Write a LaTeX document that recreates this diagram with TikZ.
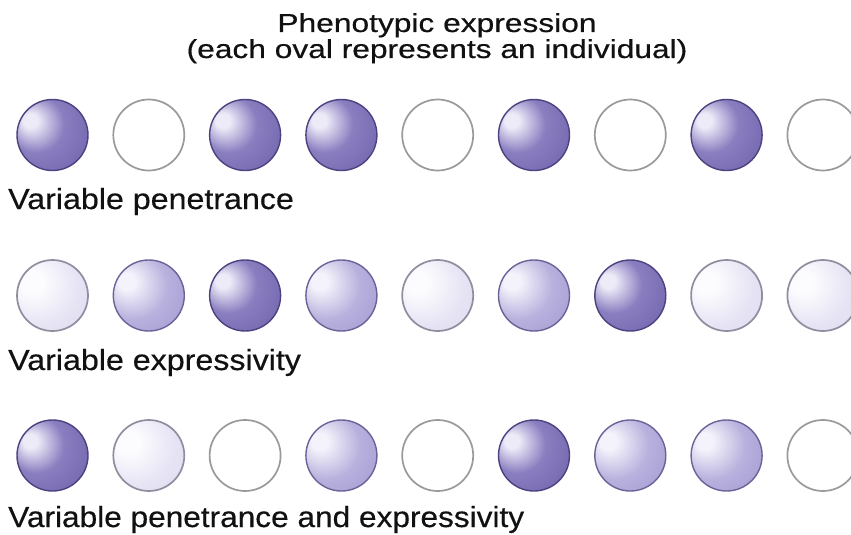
\documentclass[tikz,border=0pt]{standalone}
\usepackage{fontspec}
\setmainfont{Liberation Sans}
\newfontfamily\heavyfont{Liberation Sans}[FakeBold=0.45]
\usepackage{graphicx}

% shading and outline colours of the individuals
\definecolor{Dzero}{HTML}{EEEBF8}
\definecolor{Done}{HTML}{8A7EC0}
\definecolor{Dtwo}{HTML}{7264AD}
\definecolor{Dthree}{HTML}{5A4B94}
\definecolor{Mzero}{HTML}{F4F2FB}
\definecolor{Mone}{HTML}{B8B0DD}
\definecolor{Mtwo}{HTML}{A098CF}
\definecolor{Mthree}{HTML}{8C82BF}
\definecolor{Lzero}{HTML}{FCFCFE}
\definecolor{Lone}{HTML}{E6E3F4}
\definecolor{Ltwo}{HTML}{D4D0EB}
\definecolor{outD}{HTML}{4D4280}
\definecolor{outM}{HTML}{6B6298}
\definecolor{outL}{HTML}{8F8D9E}
\definecolor{outW}{HTML}{9A9A9A}
\definecolor{txt}{HTML}{111111}

\pgfdeclareradialshading{darkball}{\pgfqpoint{-17bp}{11bp}}{%
  color(0bp)=(Dzero); color(5bp)=(Dzero); color(20bp)=(Done);
  color(40bp)=(Dtwo); color(66bp)=(Dthree)}
\pgfdeclareradialshading{medball}{\pgfqpoint{-17bp}{11bp}}{%
  color(0bp)=(Mzero); color(6bp)=(Mzero); color(24bp)=(Mone);
  color(45bp)=(Mtwo); color(66bp)=(Mthree)}
\pgfdeclareradialshading{lightball}{\pgfqpoint{-17bp}{11bp}}{%
  color(0bp)=(Lzero); color(8bp)=(Lzero); color(28bp)=(Lone);
  color(66bp)=(Ltwo)}

\tikzset{
  ind/.style={circle, minimum size=71pt, inner sep=0pt},
  dk/.style={ind, draw=outD, line width=1.4pt, shading=darkball},
  md/.style={ind, draw=outM, line width=1.4pt, shading=medball},
  lt/.style={ind, draw=outL, line width=1.7pt, shading=lightball},
  wh/.style={ind, draw=outW, line width=1.7pt, fill=white},
  lbl/.style={inner sep=0pt, anchor=base west, text=txt,
    font=\heavyfont\fontsize{29}{29}\selectfont},
  ttl/.style={inner sep=0pt, anchor=base, text=txt,
    font=\heavyfont\fontsize{26}{26}\selectfont},
}

\begin{document}
\begin{tikzpicture}[x=1pt, y=-1pt]
  \useasboundingbox (0,0) rectangle (851,535);
  \clip (0,0) rectangle (851,535);

  % title
  \node[ttl] (title1) at (437,32) {\scalebox{1.22}[1]{Phenotypic expression}};
  \node[ttl] (title2) at (437,58) {\scalebox{1.22}[1]{(each oval represents an individual)}};

  % row 1: variable penetrance
  \foreach \s [count=\i] in {dk,wh,dk,dk,wh,dk,wh,dk,wh}
    \node[\s] (pen\i) at ({52.5+(\i-1)*96.3},135) {};
  \node[lbl] (labpen) at (8,209) {\scalebox{1.11}[1]{Variable penetrance}};

  % row 2: variable expressivity
  \foreach \s [count=\i] in {lt,md,dk,md,lt,md,dk,lt,lt}
    \node[\s] (exp\i) at ({52.5+(\i-1)*96.3},295.5) {};
  \node[lbl] (labexp) at (8,370) {\scalebox{1.11}[1]{Variable expressivity}};

  % row 3: both
  \foreach \s [count=\i] in {dk,lt,wh,md,wh,dk,md,md,wh}
    \node[\s] (both\i) at ({52.5+(\i-1)*96.3},455.5) {};
  \node[lbl] (labboth) at (8,527) {\scalebox{1.09}[1]{Variable penetrance and expressivity}};
\end{tikzpicture}
\end{document}
